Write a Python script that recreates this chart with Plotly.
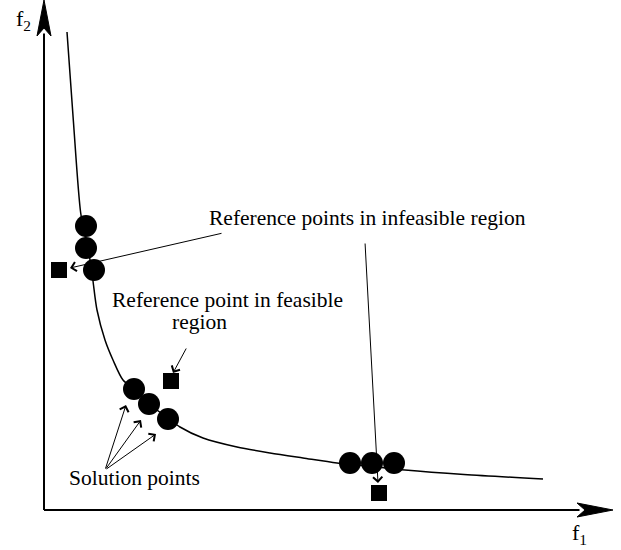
import plotly.graph_objects as go

# Pareto front f1-f2
front_f1 = [0.46, 0.586, 0.734, 0.84, 0.93, 0.98, 1.06, 1.22, 1.38, 1.58, 1.8, 2.1, 2.48,
            2.72, 3.18, 3.86, 4.52, 5.18, 5.86, 6.56, 7.22, 8.4, 9.98]
front_f2 = [9.56, 7.8, 5.94, 5.4, 4.95, 4.58, 4.0, 3.4, 3.0, 2.6, 2.42, 2.12, 1.84,
            1.66, 1.44, 1.26, 1.14, 1.04, 0.94, 0.87, 0.8, 0.71, 0.62]

# Solution points (circles)
sol_f1 = [0.84, 0.84, 1.0, 1.8, 2.1, 2.48, 6.12, 6.56, 7.0]
sol_f2 = [5.68, 5.24, 4.8, 2.42, 2.12, 1.82, 0.94, 0.94, 0.94]

# Reference points (squares)
ref_f1 = [0.3, 2.54, 6.7]
ref_f2 = [4.8, 2.58, 0.34]

# Axis extents (origin at 0, 0)
x_end, y_end = 11.38, 10.2

FONT = "Liberation Serif, Times New Roman, serif"
fs = 21.5

fig = go.Figure()
fig.add_trace(go.Scatter(x=front_f1, y=front_f2, mode="lines",
                         line=dict(color="black", width=1.5, shape="spline", smoothing=0.8),
                         hoverinfo="skip"))
fig.add_trace(go.Scatter(x=sol_f1, y=sol_f2, mode="markers",
                         marker=dict(symbol="circle", size=22, color="black")))
fig.add_trace(go.Scatter(x=ref_f1, y=ref_f2, mode="markers",
                         marker=dict(symbol="square", size=16, color="black")))

# Axes with stealth arrowheads
ah_len, ah_w, ah_notch = 0.72, 0.14, 0.16
fig.add_shape(type="line", x0=0, y0=0, x1=x_end - ah_len + 0.05, y1=0,
              line=dict(color="black", width=2))
fig.add_shape(type="line", x0=0, y0=0, x1=0, y1=y_end - ah_len + 0.05,
              line=dict(color="black", width=2))
fig.add_shape(type="path",
              path=(f"M {x_end},0 L {x_end - ah_len},{ah_w} "
                    f"L {x_end - ah_len + ah_notch},0 L {x_end - ah_len},{-ah_w} Z"),
              fillcolor="black", line=dict(color="black", width=1))
fig.add_shape(type="path",
              path=(f"M 0,{y_end} L {ah_w},{y_end - ah_len} "
                    f"L 0,{y_end - ah_len + ah_notch} L {-ah_w},{y_end - ah_len} Z"),
              fillcolor="black", line=dict(color="black", width=1))

font = dict(family=FONT, size=fs, color="black")

def label(x, y, text, size=fs):
    fig.add_annotation(x=x, y=y, text=text, showarrow=False, xref="x", yref="y",
                       font=dict(family=FONT, size=size, color="black"))

def arrow(tail, tip):
    fig.add_annotation(x=tip[0], y=tip[1], ax=tail[0], ay=tail[1],
                       xref="x", yref="y", axref="x", ayref="y", text="",
                       showarrow=True, arrowhead=4, arrowsize=1.8, arrowwidth=1,
                       arrowcolor="black", standoff=0, startstandoff=0)

label(-0.42, 9.8, "f<sub>2</sub>", size=22)
label(10.7, -0.48, "f<sub>1</sub>", size=22)

label(6.46, 5.84, "Reference points in infeasible region")
arrow((3.58, 5.54), (0.52, 4.84))
arrow((6.42, 5.36), (6.68, 0.54))

label(3.66, 4.2, "Reference point in feasible")
label(3.11, 3.76, "region")
arrow((2.86, 3.26), (2.58, 2.74))

label(1.8, 0.64, "Solution points")
for tip in [(1.64, 2.1), (1.94, 1.8), (2.24, 1.52)]:
    arrow((1.22, 0.8), tip)

fig.update_layout(
    width=621, height=550,
    margin=dict(l=0, r=0, t=0, b=0),
    paper_bgcolor="white", plot_bgcolor="white",
    showlegend=False,
    font=font,
    xaxis=dict(range=[-0.88, 11.54], visible=False, fixedrange=True),
    yaxis=dict(range=[-0.8, 10.2], visible=False, fixedrange=True),
)

fig.write_html("out.html")
